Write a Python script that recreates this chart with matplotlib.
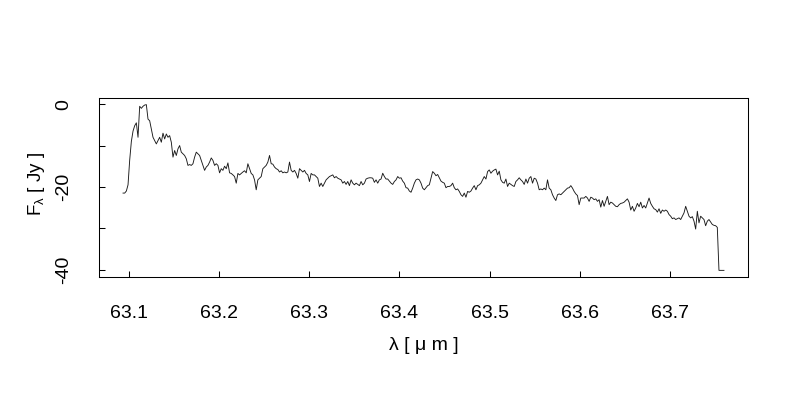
import numpy as np
import matplotlib
matplotlib.use("Agg")
import matplotlib.pyplot as plt

plt.rcParams['font.family'] = ['Liberation Sans', 'DejaVu Sans']
plt.rcParams['mathtext.fontset'] = 'custom'
plt.rcParams['mathtext.rm'] = 'Liberation Sans'
plt.rcParams['mathtext.it'] = 'Liberation Sans'

# wavelength grid of the spectrum (evenly sampled), micron
wl_start = 63.0938
wl_end = 63.7598

# flux density in Jy from left to right
flux_a = [-21.5, -21.5, -21.0, -19.5, -13.5, -9.0, -6.5, -5.2, -4.5, -8.0,
          -0.5, -1.0, -0.5, -0.2, -0.1]
flux_b = [-3.6, -4.0, -6.0, -8.0, -8.8, -9.6, -8.8, -8.0, -9.2, -7.0,
          -8.4, -7.2, -8.0, -7.6, -9.2, -12.8, -11.2, -12.4, -10.8, -10.0,
          -11.6, -12.0, -12.4, -13.2, -14.8, -14.6, -14.8, -14.4, -12.8, -11.6,
          -12.0, -12.4, -13.6, -14.8, -16.0, -15.2, -14.8, -14.0, -13.0, -13.6,
          -14.8]
flux_c = [-14.4, -14.8, -16.6, -15.6, -16.0, -15.0, -15.6, -14.2, -16.6, -16.75,
          -17.1, -17.5, -19.1, -16.75, -17.1, -16.75, -16.4, -16.1, -16.6, -14.4,
          -15.6, -16.75, -17.1, -18.3, -20.7, -18.3, -17.9, -17.5, -15.6, -15.2,
          -14.8, -14.0, -12.4, -14.4, -14.5, -15.2, -15.6, -15.8, -16.4, -16.1,
          -16.6, -16.4, -16.6, -16.4, -14.0, -16.0, -16.4, -16.0, -16.75, -17.9,
          -15.6, -16.0, -16.4, -16.0, -16.75, -17.1, -18.7, -16.75, -17.1, -17.1]
flux_d = [-17.5, -17.9, -19.9, -19.1, -19.9, -19.1, -18.3, -17.9, -17.5, -17.3,
          -17.1, -17.8, -17.5, -17.9, -18.1, -18.3, -19.1, -18.7, -19.4, -18.7,
          -19.7, -18.3, -19.1, -19.5, -19.1, -19.4, -19.7, -18.7, -19.5, -19.1,
          -18.1, -17.9, -17.8, -17.8, -17.9, -18.9, -18.3, -19.1, -18.3, -18.1,
          -16.7, -17.5, -18.1, -18.1, -18.6, -19.1, -19.4, -18.7, -18.3, -17.5,
          -17.9, -17.8, -18.6, -19.1, -20.2, -20.3, -21.0, -21.3, -20.3, -19.1]
flux_e = [-18.3, -18.1, -18.3, -19.1, -20.3, -20.7, -20.2, -19.7, -19.5, -17.9,
          -16.3, -16.7, -17.3, -17.0, -17.8, -18.6, -18.9, -19.1, -20.2, -19.9,
          -19.9, -19.7, -19.1, -20.2, -20.7, -20.5, -21.1, -21.9, -22.3, -21.5,
          -22.5, -21.1, -21.3, -21.0, -20.3, -19.7, -20.7, -19.7, -19.5, -19.1,
          -18.3, -17.5, -18.1, -16.3, -15.9, -16.7, -16.2, -15.9, -15.7, -17.1,
          -16.2, -18.3, -18.9, -19.1, -18.1, -19.9, -19.1, -19.4, -19.7, -19.9]
flux_f = [-18.7, -18.3, -17.8, -18.3, -18.7, -19.4, -18.1, -19.1, -17.9, -17.5,
          -19.1, -17.9, -18.1, -19.1, -20.7, -20.5, -20.7, -20.3, -20.7, -18.3,
          -20.3, -20.7, -21.9, -22.7, -23.3, -21.9, -21.7, -21.9, -21.5, -21.1,
          -20.7, -20.3, -20.2, -19.7, -20.3, -21.1, -21.7, -22.1, -24.3, -22.7,
          -22.7, -22.7, -22.3, -22.7, -23.5, -22.5, -22.7, -23.1, -22.9, -23.5,
          -23.1, -24.9, -23.3, -24.7, -23.5, -22.3, -24.3, -23.7, -23.9, -24.3]
flux_g = [-24.7, -24.8, -24.3, -24.0, -23.9, -23.7, -23.3, -22.9, -23.7, -25.6,
          -24.7, -25.9, -25.1, -24.0, -24.8, -23.7, -25.1, -24.5, -25.1, -23.9,
          -22.7, -24.0, -24.7, -25.3, -25.5, -26.1, -25.3, -26.4, -25.6, -25.9,
          -25.6, -25.9, -26.7, -27.1, -27.7, -27.5, -27.9, -27.7, -27.5, -27.9,
          -27.1, -26.3, -24.7, -25.9, -27.1, -27.5, -27.2, -28.3, -30.2, -25.9,
          -28.7, -27.1, -27.5, -27.9, -29.4, -28.3, -27.9, -28.5, -29.1, -29.3,
          -29.4, -29.8]
flux_h = [-40.2, -40.2, -40.2, -40.2]

flux = np.array(flux_a + flux_b + flux_c + flux_d + flux_e + flux_f + flux_g + flux_h)
wavelength = np.linspace(wl_start, wl_end, len(flux))

x_ticks = [63.1, 63.2, 63.3, 63.4, 63.5, 63.6, 63.7]
y_ticks = [0, -10, -20, -30, -40]
y_tick_labels = ['0', '', '-20', '', '-40']

fig = plt.figure(figsize=(8, 4), dpi=100)
ax = fig.add_axes([0.12375, 0.3075, 0.81125, 0.4475])

ax.plot(wavelength, flux, color='#1a1a1a', linewidth=0.65)
ax.margins(x=0.04, y=0.04)

ax.set_xticks(x_ticks)
ax.set_xticklabels([f"{t:.1f}" for t in x_ticks])
ax.set_yticks(y_ticks)
ax.set_yticklabels(y_tick_labels, rotation=90, va='center')

ax.tick_params(direction='in', length=4, width=0.75, labelsize=14)
ax.tick_params(axis='x', pad=20)
ax.tick_params(axis='y', pad=19)
for s in ax.spines.values():
    s.set_linewidth(0.75)

ax.set_xlabel("λ [ μ m ]", fontsize=14)
ax.xaxis.set_label_coords(0.5, -0.38)
ax.xaxis.label.set_va('center')
ax.set_ylabel(r"F$_{\mathrm{λ}}$ [ Jy ]", fontsize=13.5)
ax.yaxis.set_label_coords(-0.097, 0.52)
ax.yaxis.label.set_va('center')

fig.savefig("out.png", dpi=100)
